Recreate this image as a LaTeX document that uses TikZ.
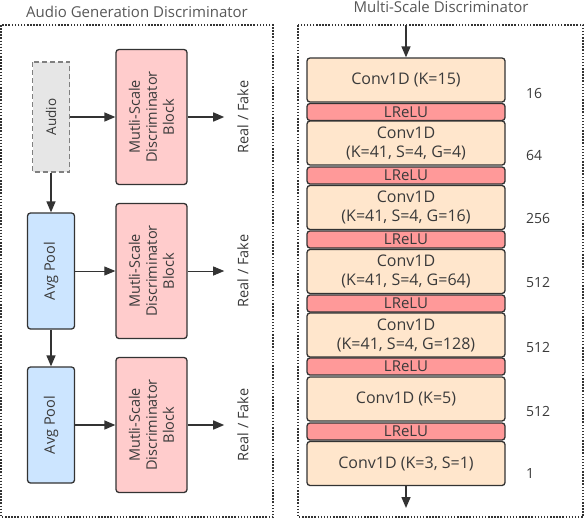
\documentclass[tikz,border=0pt]{standalone}
\usepackage{fontspec}
\setmainfont{Open Sans}
\usetikzlibrary{arrows.meta}
\definecolor{linegray}{HTML}{333333}
\definecolor{textgray}{HTML}{3A3A3A}
\definecolor{msdpink}{HTML}{FFCCCC}
\definecolor{poolblue}{HTML}{CCE5FF}
\definecolor{audiogray}{HTML}{E6E6E6}
\definecolor{convpeach}{HTML}{FFE6CC}
\definecolor{relured}{HTML}{FF9999}
\tikzset{
  blockbase/.style={rectangle, draw=linegray, line width=1.3pt, rounded corners=3pt, align=center, inner sep=0pt, text=textgray, font=\fontsize{14.5}{17}\selectfont},
  audioblock/.style={blockbase, draw=gray, dashed, dash pattern=on 5pt off 3pt, rounded corners=0pt, fill=audiogray, rotate=90, minimum width=110, minimum height=37, font=\fontsize{13.5}{16}\selectfont},
  poolblock/.style={blockbase, fill=poolblue, rotate=90, minimum width=116, minimum height=47},
  msdblock/.style={blockbase, fill=msdpink, rotate=90, minimum width=135, minimum height=71},
  convblock/.style={blockbase, fill=convpeach, minimum width=198, minimum height=44, font=\fontsize{16}{19}\selectfont},
  relublock/.style={blockbase, fill=relured, minimum width=198, minimum height=17, font=\fontsize{15}{16}\selectfont},
  outlabel/.style={rotate=90, text=textgray, inner sep=13pt, font=\fontsize{14.5}{17}\selectfont},
  countlabel/.style={anchor=west, text=textgray, inner sep=0pt, font=\fontsize{14}{16}\selectfont},
  titlelabel/.style={text=textgray!85, font=\fontsize{15}{17}\selectfont},
  flowarrow/.style={draw=linegray, line width=1.5pt, -{Triangle[length=11pt,width=9pt]}},
  thinarrow/.style={flowarrow, line width=0.9pt},
  framebox/.style={draw=linegray, line width=1.5pt, dash pattern=on 1.5pt off 1.6pt}
}

\begin{document}
\begin{tikzpicture}[x=1pt, y=-1pt]
		\useasboundingbox (0,0) rectangle (586,520);
		
		% left panel
		\draw [framebox] (1,25) rectangle (273,517);
		\node (titleleft) [titlelabel] at (137,12) {Audio Generation Discriminator};
		
		\node (rectaudio) [audioblock] at (51,117) {Audio};
		\node (rectpoolone) [poolblock] at (51,271) {Avg Pool};
		\node (rectpooltwo) [poolblock] at (51,425) {Avg Pool};
		
		\node (rectmsdone) [msdblock] at (151.5,117) {Mutli-Scale\\Discriminator\\Block};
		\node (rectmsdtwo) [msdblock] at (151.5,271) {Mutli-Scale\\Discriminator\\Block};
		\node (rectmsdthree) [msdblock] at (151.5,425) {Mutli-Scale\\Discriminator\\Block};
		
		\node (realone) [outlabel] at (243,117) {Real / Fake};
		\node (realtwo) [outlabel] at (243,271) {Real / Fake};
		\node (realthree) [outlabel] at (243,425) {Real / Fake};
		
		\draw [flowarrow] (rectaudio) -- (rectpoolone);
		\draw [flowarrow] (rectpoolone) -- (rectpooltwo);
		\draw [flowarrow] (rectaudio) -- (rectmsdone);
		\draw [thinarrow] (rectpoolone) -- (rectmsdtwo);
		\draw [flowarrow] (rectpooltwo) -- (rectmsdthree);
		\draw [flowarrow] (rectmsdone) -- (realone);
		\draw [thinarrow] (rectmsdtwo) -- (realtwo);
		\draw [flowarrow] (rectmsdthree) -- (realthree);
		
		% right panel
		\draw [framebox] (298,25) rectangle (583,517);
		\node (titleright) [titlelabel] at (441,7) {Multi-Scale Discriminator};
		
		\node (rectconvone) [convblock] at (406,80) {Conv1D (K=15)};
		\node (rectreluone) [relublock] at (406,112) {LReLU};
		\node (rectconvtwo) [convblock] at (406,143) {Conv1D\\(K=41, S=4, G=4)};
		\node (rectrelutwo) [relublock] at (406,175.5) {LReLU};
		\node (rectconvthree) [convblock] at (406,207.5) {Conv1D\\(K=41, S=4, G=16)};
		\node (rectreluthree) [relublock] at (406,239.5) {LReLU};
		\node (rectconvfour) [convblock] at (406,271.5) {Conv1D\\(K=41, S=4, G=64)};
		\node (rectrelufour) [relublock] at (406,303.5) {LReLU};
		\node (rectconvfive) [convblock] at (406,335) {Conv1D\\(K=41, S=4, G=128)};
		\node (rectrelufive) [relublock] at (406,366.5) {LReLU};
		\node (rectconvsix) [convblock] at (406,399) {Conv1D (K=5)};
		\node (rectrelusix) [relublock] at (406,431.5) {LReLU};
		\node (rectconvseven) [convblock] at (406,463.5) {Conv1D (K=3, S=1)};
		
		\node (countone) [countlabel] at (526,93) {16};
		\node (counttwo) [countlabel] at (526,155) {64};
		\node (countthree) [countlabel] at (526,218) {256};
		\node (countfour) [countlabel] at (526,282) {512};
		\node (countfive) [countlabel] at (526,347) {512};
		\node (countsix) [countlabel] at (526,411) {512};
		\node (countseven) [countlabel] at (526,473) {1};
		
		\coordinate (msdin) at (406,25);
		\coordinate (msdout) at (406,508);
		\draw [flowarrow] (msdin) -- (rectconvone);
		\draw [flowarrow] (rectconvseven) -- (msdout);
		
		\end{tikzpicture}
\end{document}
